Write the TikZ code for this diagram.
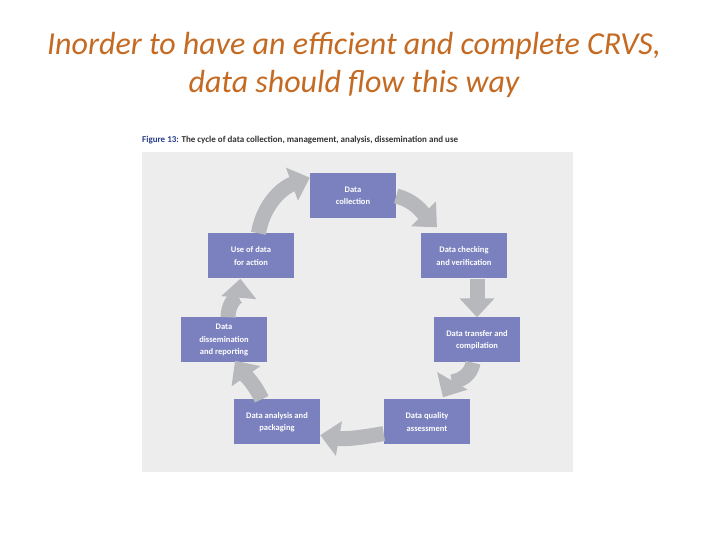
\documentclass[tikz,border=0pt]{standalone}
\usepackage{fontspec}
\setmainfont{Carlito}
\usetikzlibrary{arrows.meta}
\definecolor{titleorange}{RGB}{196,106,34}
\definecolor{panelgray}{RGB}{237,237,237}
\definecolor{boxblue}{RGB}{123,129,190}
\definecolor{arrowgray}{RGB}{182,184,188}
\definecolor{figblue}{RGB}{40,60,140}
\definecolor{captext}{RGB}{50,50,50}
\tikzset{
	stage/.style={fill=boxblue, text=white, minimum width=86pt, minimum height=45pt,
		align=center, inner sep=2pt, font=\fontsize{8.5}{12.5}\selectfont\bfseries},
	cyc/.style={draw=arrowgray, line width=15pt, -{Triangle[width=34pt,length=19pt]}}
}
\begin{document}
\begin{tikzpicture}[x=1pt,y=1pt]
		\useasboundingbox (0,0) rectangle (720,540);
		
		% heading
		\node[text=titleorange, align=center, font=\fontsize{32}{38}\selectfont\itshape] (title) at (354,475)
			{Inorder to have an efficient and complete CRVS,\\data should flow this way};
		
		% caption and panel
		\node[anchor=west, inner sep=0pt, font=\fontsize{9}{10}\selectfont\bfseries] (cap) at (142,400)
			{\textcolor{figblue}{Figure 13:} \textcolor{captext}{The cycle of data collection, management, analysis, dissemination and use}};
		\fill[panelgray] (142,68) rectangle (573,388);
		
		% the seven stages
		\node[stage] (coll) at (353,344) {Data\\collection};
		\node[stage] (check) at (464,284) {Data checking\\and verification};
		\node[stage] (trans) at (477,200) {Data transfer and\\compilation};
		\node[stage] (qual) at (427,118) {Data quality\\assessment};
		\node[stage] (ana) at (277,118) {Data analysis and\\packaging};
		\node[stage] (dis) at (224,200) {Data\\dissemination\\and reporting};
		\node[stage] (use) at (251,284) {Use of data\\for action};
		
		% arrows round the cycle
		\draw[cyc] (coll.east) to[out=-15,in=135] ([shift={(0,6)}]check.140);
		\draw[cyc] (trans.north |- check.south) -- (trans.north);
		\draw[cyc] (trans.-100) to[out=-100,in=60] ([shift={(0,2)}]qual.55);
		\draw[cyc] (qual.195) to[out=190,in=-10] (ana.-17);
		\draw[cyc] (ana.124) to[out=115,in=-55] ([shift={(0,2)}]dis.-64);
		\draw[cyc] (dis.80) to[out=90,in=-95] (use.-115);
		\draw[cyc] (use.72) to[out=80,in=200] (coll.157);
	\end{tikzpicture}
\end{document}
